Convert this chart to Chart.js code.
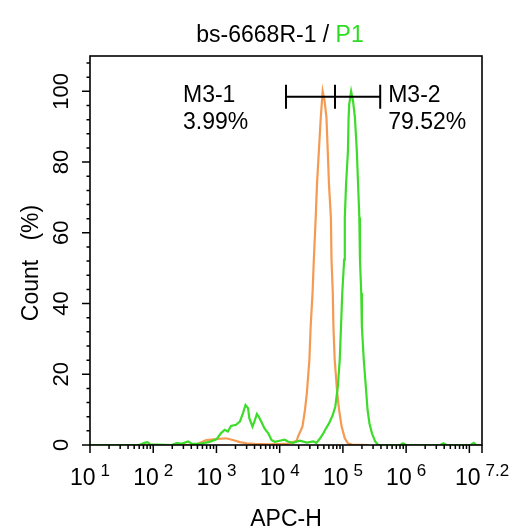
<!DOCTYPE html>
<html>
<head>
<meta charset="utf-8">
<script src="https://cdn.jsdelivr.net/npm/chart.js@4.4.1/dist/chart.umd.min.js"></script>
<style>
  html,body{margin:0;padding:0;background:#fff;}
  #c{display:block;}
</style>
</head>
<body>
<canvas id="c" width="526" height="531"></canvas>
<script>
// x values are log10(APC-H), y values are Count (%)
const orangeLog   = [1.00,2.57,2.70,2.84,3.00,3.15,3.26,3.37,3.47,3.60,3.84,4.11,4.19,4.27,4.29,4.36,4.40,4.43,4.47,4.49,4.52,4.54,4.57,4.59,4.62,4.65,4.68,4.71,4.74,4.76,4.78,4.81,4.82,4.84,4.85,4.87,4.91,4.94,4.98,5.03,5.08,5.14,5.40];
const orangeCount = [0,0,0.3,1.4,1.7,1.9,1.4,0.8,0.5,0.3,0.2,0.3,0.7,1.2,2.4,5.2,9.9,14.7,24.1,33.5,43,52.4,64.3,73.7,83.2,92.6,100,97.3,92.6,83.2,73.7,64.3,52.4,43,33.5,24.1,14.7,9.9,5.2,1.9,0.5,0.1,0];

const greenLog   = [1.00,1.78,1.86,1.91,1.95,2.29,2.37,2.46,2.55,2.62,2.73,2.89,3.00,3.07,3.13,3.18,3.23,3.31,3.37,3.42,3.46,3.50,3.52,3.57,3.60,3.64,3.67,3.71,3.76,3.82,3.87,3.92,4.00,4.08,4.13,4.21,4.32,4.43,4.53,4.58,4.64,4.69,4.72,4.78,4.84,4.88,4.92,4.95,4.97,4.99,5.02,5.03,5.05,5.08,5.09,5.10,5.13,5.16,5.19,5.22,5.24,5.26,5.27,5.29,5.30,5.33,5.37,5.39,5.42,5.46,5.51,5.56,5.91,5.95,6.00,6.54,6.59,6.64,7.02,7.07,7.11,7.20];
const greenCount = [0,0,0.6,0.8,0.2,0,0.5,0.4,1.0,0.3,0.3,0.9,1.6,3.3,4.3,3.8,5.4,5.7,6.6,9,11.3,10.4,7.6,5.2,6.6,8.8,8,6.6,4.7,3.3,1.4,0.9,1.2,1.5,1.0,0.6,1.2,0.7,1.0,0.6,1.9,3.3,4.3,6.1,8.5,10.9,16.6,24.1,33.5,43,52.4,64.3,73.7,83.2,92.6,96.4,100,97.3,92.6,83.2,73.7,64.3,52.4,43,33.5,24.1,14.7,9.9,6.1,3.3,1.0,0,0,0.5,0,0,0.5,0,0,0.6,0,0];

const decades     = [1,2,3,4,5,6,7];
const xEnd        = 7.2;
const xLabelPos   = [1,2,3,4,5,6,7.2];
const xLabelExp   = ['1','2','3','4','5','6','7.2'];
const yTicks      = [0,20,40,60,80,100];
const yMax        = 110;

const gateNames = ['M3-1','M3-2'];
const gatePct   = ['3.99%','79.52%'];
const gateEdges = [4.1,4.875,5.59];
const gateLevel = 98.5;

const FONT = '"Liberation Sans", Arial, Helvetica, sans-serif';

function pts(xs,ys){ return xs.map((x,i)=>({x:x,y:ys[i]})); }

const axesPlugin = {
  id:'flowAxes',
  afterDraw(chart){
    const ctx = chart.ctx, a = chart.chartArea;
    const xs = chart.scales.x, ys = chart.scales.y;
    ctx.save();
    ctx.strokeStyle = '#000';
    ctx.fillStyle = '#000';

    // frame
    ctx.lineWidth = 1.6;
    ctx.strokeRect(a.left, a.top, a.right-a.left, a.bottom-a.top);

    // x ticks
    ctx.lineWidth = 1.5;
    ctx.beginPath();
    decades.concat([xEnd]).forEach(d=>{
      const p = xs.getPixelForValue(d);
      ctx.moveTo(p, a.bottom); ctx.lineTo(p, a.bottom+8);
    });
    decades.forEach(d=>{
      for(let k=2;k<=9;k++){
        const v = d+Math.log10(k);
        if(v>xEnd) break;
        const p = xs.getPixelForValue(v);
        ctx.moveTo(p, a.bottom); ctx.lineTo(p, a.bottom+4);
      }
    });
    ctx.stroke();

    // x tick labels 10^n
    xLabelPos.forEach((pv,i)=>{
      const lab = xLabelExp[i];
      const p = xs.getPixelForValue(pv);
      ctx.font = '23px '+FONT;
      const w1 = ctx.measureText('10').width;
      ctx.font = '17px '+FONT;
      const w2 = ctx.measureText(lab).width;
      const start = p-(w1+5+w2)/2;
      ctx.textAlign='left'; ctx.textBaseline='alphabetic';
      ctx.font = '23px '+FONT;
      ctx.fillText('10', start, 485);
      ctx.font = '17px '+FONT;
      ctx.fillText(lab, start+w1+5, 476);
    });

    // y ticks
    ctx.beginPath();
    yTicks.forEach(t=>{
      const p = ys.getPixelForValue(t);
      ctx.moveTo(a.left, p); ctx.lineTo(a.left-8, p);
    });
    for(let v=4; v<yMax; v+=4){
      if(v%20===0) continue;
      const p = ys.getPixelForValue(v);
      ctx.moveTo(a.left, p); ctx.lineTo(a.left-3.5, p);
    }
    ctx.stroke();

    ctx.font = '22px '+FONT;
    ctx.textAlign='center'; ctx.textBaseline='alphabetic';
    yTicks.forEach(t=>{
      const p = ys.getPixelForValue(t);
      ctx.save();
      ctx.translate(68, p);
      ctx.rotate(-Math.PI/2);
      ctx.fillText(String(t), 0, 0);
      ctx.restore();
    });

    // axis titles
    ctx.save();
    ctx.translate(38, 263);
    ctx.rotate(-Math.PI/2);
    ctx.font = '23px '+FONT;
    ctx.fillText('Count   (%)', 0, 0);
    ctx.restore();

    ctx.font = '23px '+FONT;
    ctx.fillText('APC-H', 286, 526);

    // title
    ctx.font = '23px '+FONT;
    const t1 = 'bs-6668R-1 / ', t2 = 'P1';
    const tw1 = ctx.measureText(t1).width, tw2 = ctx.measureText(t2).width;
    const tx = 280-(tw1+tw2)/2;
    ctx.textAlign='left';
    ctx.fillStyle='#000';
    ctx.fillText(t1, tx, 42);
    ctx.fillStyle='#2ddc22';
    ctx.fillText(t2, tx+tw1, 42);

    // gate marker
    ctx.fillStyle='#000';
    ctx.strokeStyle='#000';
    ctx.lineWidth = 2;
    const gy = ys.getPixelForValue(gateLevel);
    const gx = gateEdges.map(g=>xs.getPixelForValue(g));
    ctx.beginPath();
    ctx.moveTo(gx[0], gy); ctx.lineTo(gx[2], gy);
    gx.forEach(x=>{ ctx.moveTo(x, gy-12); ctx.lineTo(x, gy+12); });
    ctx.stroke();

    ctx.font = '23px '+FONT;
    ctx.textAlign='left';
    ctx.fillText(gateNames[0], 183, 102);
    ctx.fillText(gatePct[0], 183, 129);
    ctx.fillText(gateNames[1], gx[2]+8, 102);
    ctx.fillText(gatePct[1], gx[2]+8, 129);

    ctx.restore();
  }
};

new Chart(document.getElementById('c'), {
  type:'line',
  data:{
    datasets:[
      { data:pts(greenLog, greenCount), borderColor:'#3ddc2a', borderWidth:2.2, pointRadius:0, tension:0 },
      { data:pts(orangeLog, orangeCount), borderColor:'#f59a52', borderWidth:2.2, pointRadius:0, tension:0 }
    ]
  },
  options:{
    responsive:false,
    animation:false,
    devicePixelRatio:1,
    layout:{ padding:{ left:90, right:44, top:56, bottom:86 } },
    plugins:{ legend:{display:false}, tooltip:{enabled:false} },
    scales:{
      x:{ type:'linear', min:1, max:xEnd, display:false },
      y:{ min:0, max:yMax, display:false }
    }
  },
  plugins:[axesPlugin]
});
</script>
</body>
</html>
